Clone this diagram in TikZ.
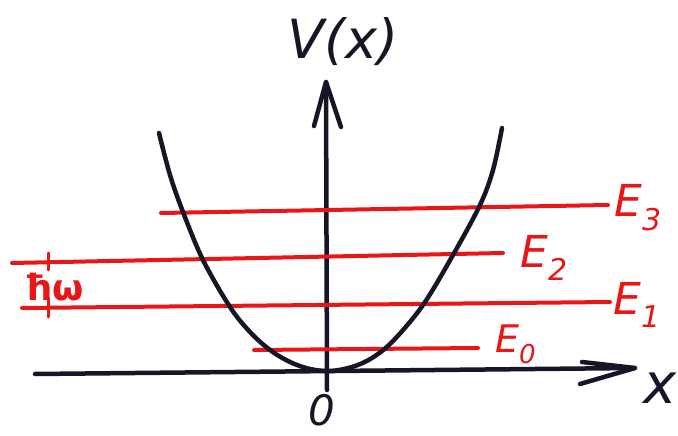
\documentclass[tikz,border=0pt]{standalone}
\usepackage{fontspec}
\setmainfont{DejaVu Sans}
\definecolor{pen}{RGB}{22,22,38}
\definecolor{marker}{RGB}{232,22,22}
\tikzset{
  ink/.style={draw=pen,line width=4.5pt,line cap=round,line join=round},
  level/.style={draw=marker,line width=4pt,line cap=round},
  elabel/.style={text=marker,inner sep=0pt,font=\fontsize{44}{44}\selectfont\itshape},
  blabel/.style={text=pen,inner sep=0pt},
}
\begin{document}
\begin{tikzpicture}[x=1pt,y=-1pt]
\useasboundingbox (0,0) rectangle (678,436);
% axes
\coordinate (xs) at (35,374);
\coordinate (xt) at (635,368);
\coordinate (xb1) at (582,362);
\coordinate (xb2) at (580,384);
\coordinate (ys) at (327,390);
\coordinate (yt) at (326,82);
\coordinate (yb1) at (314,126);
\coordinate (yb2) at (341,127);
\draw[ink] (xs) -- (xt);
\draw[ink] (xb1) -- (xt) -- (xb2);
\draw[ink] (ys) -- (yt);
\draw[ink] (yb1) -- (yt) -- (yb2);
% energy levels
\coordinate (e3a) at (161,213); \coordinate (e3b) at (608,205);
\coordinate (e2a) at (12,263);  \coordinate (e2b) at (503,253);
\coordinate (e1a) at (22,308);  \coordinate (e1b) at (610,302);
\coordinate (e0a) at (254,350); \coordinate (e0b) at (478,348);
\draw[level] (e3a) -- (e3b);
\draw[level] (e2a) -- (e2b);
\draw[level] (e1a) -- (e1b);
\draw[level] (e0a) -- (e0b);
% tick marks for hbar omega
\coordinate (t1a) at (48,253); \coordinate (t1b) at (48,270);
\coordinate (t2a) at (48,298); \coordinate (t2b) at (48,317);
\draw[level,line width=3pt] (t1a) -- (t1b);
\draw[level,line width=3pt] (t2a) -- (t2b);
% potential
\draw[ink] plot[smooth,tension=0.55] coordinates {(159,133) (170,175) (183,212) (203,260) (230,307) (250,332) (270,350) (290,362) (310,369) (330,371) (352,367) (372,358) (393,341) (423,305) (453,255) (480,205) (493,170) (502,128)};
% labels
\node[blabel,font=\fontsize{54}{54}\selectfont\itshape] (vx) at (343,42) {V(x)};
\node[blabel,font=\fontsize{42}{42}\selectfont\itshape] (o) at (322,410) {0};
\node[blabel,font=\fontsize{56}{56}\selectfont\itshape] (xl) at (660,388) {x};
\node[elabel,anchor=west] (E3) at (614,208) {E\textsubscript{\fontsize{30}{30}\selectfont 3}};
\node[elabel,anchor=west] (E2) at (520,258) {E\textsubscript{\fontsize{30}{30}\selectfont 2}};
\node[elabel,anchor=west] (E1) at (613,305) {E\textsubscript{\fontsize{30}{30}\selectfont 1}};
\node[elabel,anchor=west,font=\fontsize{38}{38}\selectfont\itshape] (E0) at (495,344) {E\textsubscript{\fontsize{26}{26}\selectfont 0}};
\node[elabel,font=\fontsize{36}{36}\selectfont\bfseries] (hw) at (54,287) {ħω};
\end{tikzpicture}
\end{document}
